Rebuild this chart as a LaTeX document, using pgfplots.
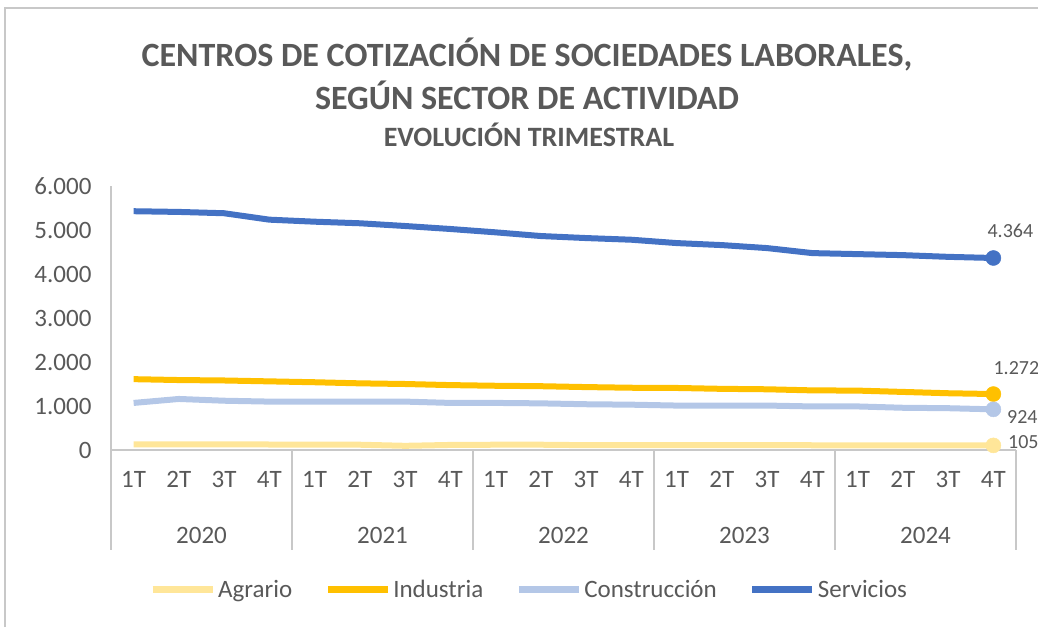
\documentclass[border=0pt]{standalone}
\usepackage{pgfplots}
\pgfplotsset{compat=1.18}
\usepackage{fontspec}
\setmainfont{Carlito}
\definecolor{agr}{HTML}{FFE699}
\definecolor{ind}{HTML}{FFC000}
\definecolor{con}{HTML}{B4C7E7}
\definecolor{ser}{HTML}{4472C4}
\definecolor{txt}{HTML}{595959}
\definecolor{axc}{HTML}{C8C8C8}
\begin{document}
\begin{tikzpicture}[x=1pt,y=1pt]
\path[use as bounding box] (-111,-177) rectangle (927,450);
\draw[axc, line width=1.5pt] (-106,-177) -- (-106,442) -- (927,442);
\node[txt, font=\fontsize{34}{40}\selectfont\bfseries] at (416,395) {CENTROS DE COTIZACIÓN DE SOCIEDADES LABORALES,};
\node[txt, font=\fontsize{34}{40}\selectfont\bfseries] at (416,355) {SEGÚN SECTOR DE ACTIVIDAD};
\node[txt, font=\fontsize{28}{32}\selectfont\bfseries] at (418,315) {EVOLUCIÓN TRIMESTRAL};
\begin{axis}[
  at={(0,0)}, anchor=south west,
  scale only axis, width=905pt, height=264pt,
  xmin=-0.5, xmax=19.5, ymin=0, ymax=6000,
  axis line style={draw=none},
  ytick={0,1000,...,6000},
  xtick={0,...,19},
  xticklabels={1T,2T,3T,4T,1T,2T,3T,4T,1T,2T,3T,4T,1T,2T,3T,4T,1T,2T,3T,4T},
  tick style={draw=none},
  /pgf/number format/assume math mode=true,
  /pgf/number format/.cd, 1000 sep={.}, fixed, /pgfplots/.cd,
  yticklabel style={txt, font=\fontsize{25}{30}\selectfont, xshift=-16pt},
  xticklabel style={txt, font=\fontsize{25}{30}\selectfont, yshift=-18pt},
  clip=false,
  legend columns=4,
  legend style={draw=none, at={(0.462,-0.53)}, anchor=center,
    font=\fontsize{25}{30}\selectfont, text=txt,
    /tikz/every even column/.append style={column sep=30pt},
    inner sep=0pt},
  legend image code/.code={\draw[#1, line width=7pt] (0pt,0pt) -- (60pt,0pt);},
  every axis plot/.append style={line width=6pt, line join=round, mark indices={20}, mark size=7.5pt},
]
\draw[axc, line width=1.5pt] (rel axis cs:0,0) -- (rel axis cs:0,1);
\draw[axc, line width=1.5pt] (rel axis cs:0,0) -- (rel axis cs:1,0);
\pgfplotsinvokeforeach{-0.5,3.5,7.5,11.5,15.5,19.5}{
  \draw[axc, line width=1.5pt] (axis cs:#1,0) -- ([yshift=-100pt]axis cs:#1,0);
}
\addplot[agr, mark=*, mark options={line width=0.5pt, fill=agr}] coordinates {
(0,130)(1,130)(2,130)(3,125)(4,125)(5,120)(6,95)(7,115)(8,120)(9,120)
(10,110)(11,110)(12,110)(13,110)(14,110)(15,108)(16,108)(17,107)(18,106)(19,105)};
\addlegendentry{Agrario}
\addplot[ind, mark=*, mark options={line width=0.5pt, fill=ind}] coordinates {
(0,1610)(1,1590)(2,1580)(3,1560)(4,1540)(5,1515)(6,1500)(7,1475)(8,1460)(9,1450)
(10,1430)(11,1415)(12,1410)(13,1390)(14,1380)(15,1355)(16,1350)(17,1320)(18,1290)(19,1272)};
\addlegendentry{Industria}
\addplot[con, mark=*, mark options={line width=0.5pt, fill=con}] coordinates {
(0,1070)(1,1160)(2,1120)(3,1100)(4,1100)(5,1100)(6,1100)(7,1070)(8,1070)(9,1060)
(10,1040)(11,1030)(12,1010)(13,1010)(14,1010)(15,990)(16,990)(17,960)(18,950)(19,924)};
\addlegendentry{Construcción}
\addplot[ser, mark=*, mark options={line width=0.5pt, fill=ser}] coordinates {
(0,5427)(1,5411)(2,5381)(3,5235)(4,5189)(5,5153)(6,5091)(7,5023)(8,4947)(9,4863)
(10,4817)(11,4779)(12,4703)(13,4657)(14,4589)(15,4475)(16,4452)(17,4429)(18,4390)(19,4364)};
\addlegendentry{Servicios}
\node[txt, font=\fontsize{25}{30}\selectfont] at ([yshift=-85pt]axis cs:1.5,0) {2020};
\node[txt, font=\fontsize{25}{30}\selectfont] at ([yshift=-85pt]axis cs:5.5,0) {2021};
\node[txt, font=\fontsize{25}{30}\selectfont] at ([yshift=-85pt]axis cs:9.5,0) {2022};
\node[txt, font=\fontsize{25}{30}\selectfont] at ([yshift=-85pt]axis cs:13.5,0) {2023};
\node[txt, font=\fontsize{25}{30}\selectfont] at ([yshift=-85pt]axis cs:17.5,0) {2024};
\node[txt, font=\fontsize{20}{24}\selectfont] at ([xshift=17pt,yshift=27pt]axis cs:19,4364) {4.364};
\node[txt, font=\fontsize{20}{24}\selectfont] at ([xshift=23pt,yshift=26pt]axis cs:19,1272) {1.272};
\node[txt, font=\fontsize{20}{24}\selectfont] at ([xshift=29pt,yshift=-8pt]axis cs:19,924) {924};
\node[txt, font=\fontsize{20}{24}\selectfont] at ([xshift=30pt,yshift=3pt]axis cs:19,105) {105};
\end{axis}
\end{tikzpicture}
\end{document}
